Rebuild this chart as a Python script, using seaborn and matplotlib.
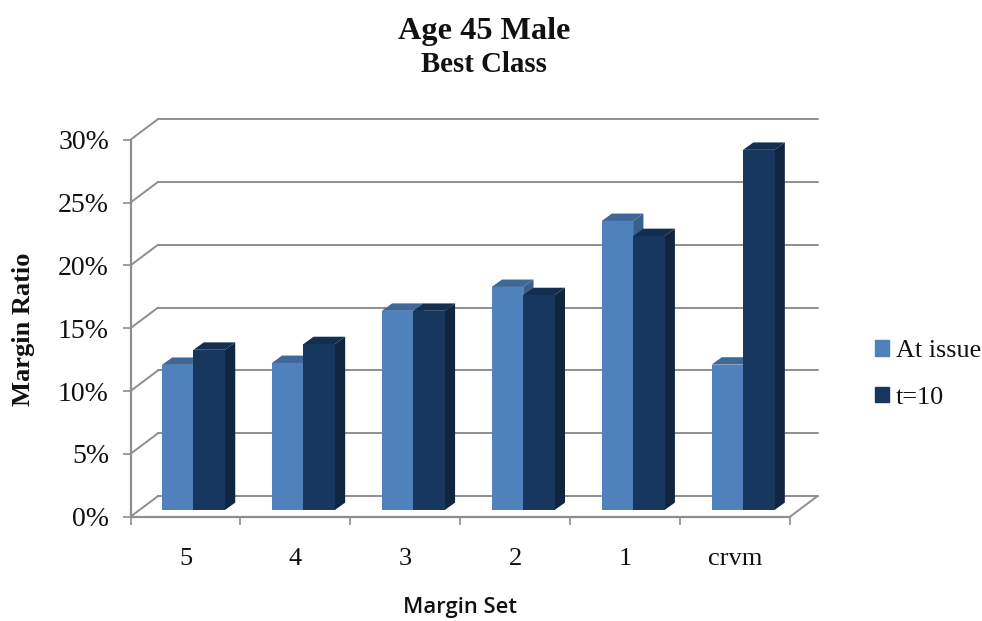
import seaborn as sns
import matplotlib.pyplot as plt
import pandas as pd
from matplotlib.ticker import PercentFormatter
from matplotlib.transforms import Affine2D

# Values
margin_sets = ['5', '4', '3', '2', '1', 'crvm']
at_issue = [0.1155, 0.117, 0.1585, 0.1775, 0.230, 0.1157]
t_10 = [0.1275, 0.132, 0.1585, 0.171, 0.218, 0.2866]
y_ticks = [0, 0.05, 0.10, 0.15, 0.20, 0.25, 0.30]

colors = {'At issue': '#4f81bd', 't=10': '#17375e'}
top_colors = {'At issue': '#3f6797', 't=10': '#142e4f'}
side_colors = {'At issue': '#3a5f8b', 't=10': '#10253f'}
grid_color = '#8e8e8e'

df = pd.DataFrame({'Margin Set': margin_sets, 'At issue': at_issue, 't=10': t_10})
melted = df.melt(id_vars='Margin Set', var_name='When', value_name='Margin Ratio')

sns.set_style('white')
plt.rcParams['font.family'] = ['Liberation Serif', 'DejaVu Serif']

W, H = 982, 621
fig = plt.figure(figsize=(W / 100, H / 100), dpi=100)
# front plane of the fake 3D box, in pixels
left, right, top, bottom = 130.5, 790, 139.7, 516.7
ax = fig.add_axes([left / W, 1 - bottom / H, (right - left) / W, (bottom - top) / H])

sns.barplot(data=melted, x='Margin Set', y='Margin Ratio', hue='When', palette=colors,
            width=0.573, gap=0, saturation=1, ax=ax, legend=False)
ax.set_xlim(-0.5, 5.5)
ax.set_ylim(0, 0.30)

# pixel sizes turned into data units
px_x = 6 / (right - left)
px_y = 0.30 / (bottom - top)

# back wall gridlines and the diagonals that join them to the front axis
wall_dx, wall_dy = 27.5, 20.6
wall = ax.transData + Affine2D().translate(wall_dx, wall_dy)
for t in y_ticks:
    ax.plot([-0.5, 5.5], [t, t], color=grid_color, lw=1.4, transform=wall, clip_on=False, zorder=1)
    ax.plot([-0.5, -0.5 + wall_dx * px_x], [t, t + wall_dy * px_y], color=grid_color, lw=1.4,
            clip_on=False, zorder=1)
ax.plot([5.5, 5.5 + wall_dx * px_x], [0, wall_dy * px_y], color=grid_color, lw=1.4,
        clip_on=False, zorder=1)

# bars sit a little inside the floor, depth faces come from each bar patch
bar_shift = ax.transData + Affine2D().translate(8, 6.7)
depth_x, depth_y = 10.3 * px_x, 7.4 * px_y
for s, (name, container) in enumerate(zip(['At issue', 't=10'], ax.containers)):
    for i, bar in enumerate(container):
        x0, x1 = bar.get_x(), bar.get_x() + bar.get_width()
        h = bar.get_height()
        z = 3 + i * 3 + s
        ax.fill([x1, x1 + depth_x, x1 + depth_x, x1], [0, depth_y, h + depth_y, h],
                color=side_colors[name], lw=0, transform=bar_shift, clip_on=False, zorder=z)
        ax.fill([x0, x0 + depth_x, x1 + depth_x, x1], [h, h + depth_y, h + depth_y, h],
                color=top_colors[name], lw=0, transform=bar_shift, clip_on=False, zorder=z)
        bar.set_transform(bar_shift)
        bar.set_clip_on(False)
        bar.set_linewidth(0)
        bar.set_zorder(z + 0.5)

sns.despine(ax=ax)
for side in ['left', 'bottom']:
    ax.spines[side].set_color(grid_color)
    ax.spines[side].set_linewidth(1.6)
    ax.spines[side].set_zorder(2)
ax.patch.set_alpha(0)

ax.set_yticks(y_ticks)
ax.yaxis.set_major_formatter(PercentFormatter(1, decimals=0))
ax.set_xticks([i - 0.5 for i in range(7)], minor=True)
ax.set_xticks(range(6), margin_sets)
ax.tick_params(axis='y', which='major', left=True, length=5.5, width=1.2, color=grid_color, pad=10,
               labelsize=20, labelcolor='#111111')
ax.tick_params(axis='x', which='minor', bottom=True, length=5.5, width=1.2, color=grid_color)
ax.tick_params(axis='x', which='major', bottom=False, pad=19, labelsize=19, labelcolor='#111111')

ax.set_xlabel('')
ax.set_ylabel('')
fig.text(24 / W, 1 - 329 / H, 'Margin Ratio', rotation=90, ha='center', va='center',
         fontsize=19, fontweight='bold', color='#111111')
fig.text(460 / W, 1 - 608 / H, 'Margin Set', ha='center', va='center', fontsize=15.8,
         fontweight='semibold', family='Open Sans', color='#111111')
fig.text(484.5 / W, 1 - 31 / H, 'Age 45 Male', ha='center', va='center', fontsize=23.2,
         fontweight='bold', color='#111111')
fig.text(484 / W, 1 - 65 / H, 'Best Class', ha='center', va='center', fontsize=20.8,
         fontweight='bold', color='#111111')

handles = [plt.Rectangle((0, 0), 1, 1, color=colors[k]) for k in colors]
fig.legend(handles, list(colors), loc='center left', bbox_to_anchor=(875 / W, 1 - 374.5 / H),
           frameon=False, fontsize=18.8, handlelength=0.54, handleheight=0.54, handletextpad=0.27,
           labelspacing=0.92, borderpad=0, borderaxespad=0, labelcolor='#111111')

plt.savefig('out.png', dpi=100)
